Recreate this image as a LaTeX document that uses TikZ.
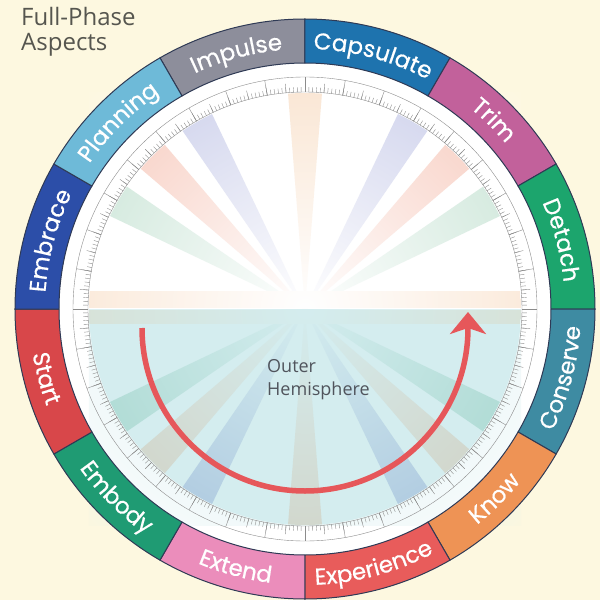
\documentclass[tikz,border=0pt]{standalone}
\usepackage{fontspec}
\usepackage{xcolor}
\usepackage{tikz}
\usetikzlibrary{arrows.meta,decorations.text,fadings}
\setmainfont{Open Sans}
\newfontfamily\ringfont{Poppins}[FakeBold=0.6]
\newcommand\rl{\ringfont\fontsize{23}{26}\selectfont}
\definecolor{creambg}{HTML}{FDF8E0}
\definecolor{ringline}{HTML}{2F3A55}
\definecolor{segimpulse}{HTML}{8D8E9B}
\definecolor{segcapsulate}{HTML}{1E73AE}
\definecolor{segtrim}{HTML}{C2619B}
\definecolor{segdetach}{HTML}{1CA56D}
\definecolor{segconserve}{HTML}{3E8BA2}
\definecolor{segknow}{HTML}{EE9355}
\definecolor{segexperience}{HTML}{E85C5B}
\definecolor{segextend}{HTML}{EB8DBB}
\definecolor{segembody}{HTML}{1F9B73}
\definecolor{segstart}{HTML}{D8474A}
\definecolor{segembrace}{HTML}{2C4EA8}
\definecolor{segplanning}{HTML}{6EBAD8}
\definecolor{lowercyan}{HTML}{D4EDEF}
\definecolor{raypeach}{HTML}{F8DCC2}
\definecolor{rayblue}{HTML}{C4C8E8}
\definecolor{raysalmon}{HTML}{F7C6B8}
\definecolor{raygreen}{HTML}{C4E2D2}
\definecolor{rayteal}{HTML}{A2D5CB}
\definecolor{raytan}{HTML}{D2CEBE}
\definecolor{raysky}{HTML}{A3BFDC}
\definecolor{bandpeach}{HTML}{FAE2CC}
\definecolor{bandgreige}{HTML}{D9DECF}
\definecolor{tickgray}{HTML}{8C8C8C}
\definecolor{arrowred}{HTML}{E6575A}
\definecolor{titlegray}{HTML}{56564F}
\definecolor{textgray}{HTML}{50545C}
\tikzfading[name=centerfade, inner color=transparent!0, outer color=transparent!100]

\begin{document}
\begin{tikzpicture}[x=1pt,y=1pt]
        % Define styles
        \tikzstyle{segment} = [draw=ringline, line width=1pt]
        \tikzstyle{tick} = [draw=tickgray, line width=0.4pt]
        \tikzstyle{arrow} = [line width=5.5pt, -{Stealth[length=22pt,width=36pt,inset=6pt]}, color=arrowred]

        % Background
        \useasboundingbox (-305,-291) rectangle (295,309);
        \fill[creambg] (-305,-291) rectangle (295,309);
        \fill[white] (0,0) circle (246);

        % Hemispheres and rays
        \begin{scope}
            \clip (0,0) circle (216);
            \fill[lowercyan] (-216,0) rectangle (216,-216);
            \foreach \ang/\col in {30/raygreen, 45/raysalmon, 60/rayblue, 90/raypeach, 120/rayblue, 135/raysalmon, 150/raygreen,
                                   210/rayteal, 225/raytan, 240/raysky, 270/raytan, 300/raysky, 315/raytan, 330/rayteal} {
                \fill[\col] (0,0) -- ({\ang-4.5}:216) arc[start angle=\ang-4.5, end angle=\ang+4.5, radius=216] -- cycle;
            }
            \fill[bandpeach] (-216,1) rectangle (216,18);
            \fill[bandgreige] (-216,-1) rectangle (216,-15);
        \end{scope}

        % Fade towards the centre
        \begin{scope}
            \clip (-216,0) rectangle (216,216);
            \fill[white, path fading=centerfade] (0,0) circle (320);
        \end{scope}
        \begin{scope}
            \clip (-216,0) rectangle (216,-216);
            \fill[lowercyan, path fading=centerfade] (0,0) circle (320);
        \end{scope}

        % Scale
        \draw[tick] (0,0) circle (232);
        \draw[tick] (0,0) circle (217);
        \foreach \a in {0,...,359} {\draw[tick] (\a:217) -- (\a:222);}
        \foreach \a in {0,5,...,355} {\draw[tick] (\a:217) -- (\a:226);}
        \foreach \a in {0,10,...,350} {\draw[tick] (\a:217) -- (\a:232);}

        % Ring segments
        \foreach \a/\col in {90/segimpulse, 60/segcapsulate, 30/segtrim, 0/segdetach, -30/segconserve, -60/segknow,
                             -90/segexperience, -120/segextend, -150/segembody, 180/segstart, 150/segembrace, 120/segplanning} {
            \filldraw[segment, fill=\col] (\a:246) arc[start angle=\a, end angle=\a+30, radius=246]
                -- ({\a+30}:290) arc[start angle=\a+30, end angle=\a, radius=290] -- cycle;
        }

        % Ring labels, upper half
        \foreach \a/\txt in {90/Impulse, 60/Capsulate, 30/Trim, 0/Detach, 150/Embrace, 120/Planning} {
            \path[decorate, decoration={text along path, text align=center, text color=white,
                text/.expanded={|\noexpand\rl|\txt}}]
                ({\a+30}:260) arc[start angle=\a+30, end angle=\a, radius=260];
        }
        % Ring labels, lower half
        \foreach \a/\txt in {-30/Conserve, -60/Know, -90/Experience, -120/Extend, -150/Embody, 180/Start} {
            \path[decorate, decoration={text along path, text align=center, text color=white,
                text/.expanded={|\noexpand\rl|\txt}}]
                (\a:276) arc[start angle=\a, end angle=\a+30, radius=276];
        }

        % Arrow
        \coordinate (arcstart) at (-163,-19);
        \coordinate (arctip) at (163,-3);
        \draw[arrow] (arcstart) arc[start angle=180, end angle=360, radius=163] -- (arctip);

        % Texts
        \node (title) [anchor=north west, align=left, text=titlegray, font=\fontsize{24}{25}\selectfont, inner sep=0pt] at (-284,302) {Full-Phase\\Aspects};
        \node (hemi) [anchor=north west, align=left, text=textgray, font=\fontsize{18}{23}\selectfont, inner sep=0pt] at (-38,-50) {Outer\\Hemisphere};

    \end{tikzpicture}
\end{document}
